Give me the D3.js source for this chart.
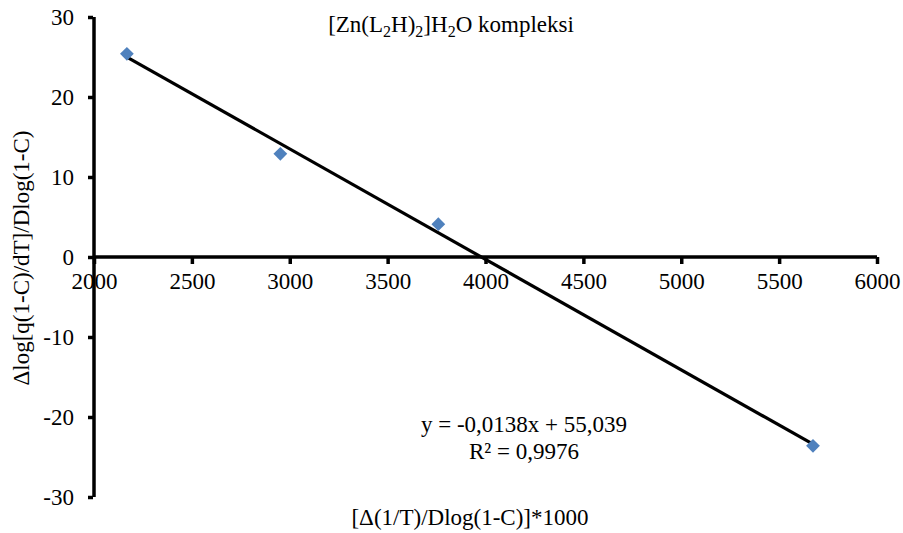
<!DOCTYPE html>
<html>
<head>
<meta charset="utf-8">
<script src="https://cdn.jsdelivr.net/npm/d3@7/dist/d3.min.js"></script>
<style>
  body { margin: 0; background: #fff; }
  svg text { font-family: "Liberation Serif", "Times New Roman", serif; fill: #000; }
</style>
</head>
<body>
<svg id="chart" width="903" height="533"></svg>
<script>
// data
const xValues = [2168, 2952, 3759, 5673];
const yValues = [25.4, 12.9, 4.1, -23.6];
const xTicks = [2000, 2500, 3000, 3500, 4000, 4500, 5000, 5500, 6000];
const yTicks = [-30, -20, -10, 0, 10, 20, 30];
const equationLines = ["y = -0,0138x + 55,039", "R² = 0,9976"];

const svg = d3.select("#chart");

var margin = {top: 17, right: 26, bottom: 36, left: 94},
    width = 903 - margin.left - margin.right,
    height = 533 - margin.top - margin.bottom;

const g = svg.append("g")
  .attr("transform", "translate(" + margin.left + "," + margin.top + ")");

const x = d3.scaleLinear().domain([2000, 6000]).range([0, width]);
const y = d3.scaleLinear().domain([-30, 30]).range([height, 0]);

const fmt = d => String(d); // plain hyphen minus like the original

// y axis at x = 2000
const yAxis = g.append("g")
  .call(d3.axisLeft(y).tickValues(yTicks).tickSize(6).tickPadding(14).tickFormat(fmt));
yAxis.select(".domain").attr("d", "M0," + y(-30) + "V" + y(30)).attr("stroke-width", 3.5);
yAxis.selectAll(".tick line").attr("stroke-width", 3.5).attr("x1", -1);

// x axis along y = 0
const xAxis = g.append("g")
  .attr("transform", "translate(0," + y(0) + ")")
  .call(d3.axisBottom(x).tickValues(xTicks).tickSize(7).tickPadding(9).tickFormat(fmt));
xAxis.select(".domain").attr("d", "M0,0H" + x(6000)).attr("stroke-width", 3.5);
xAxis.selectAll(".tick line").attr("stroke-width", 3.5);

g.selectAll(".tick text")
  .style("font-family", "'Liberation Serif', serif")
  .style("font-size", "23px");

// least squares trendline from the points
const pts = xValues.map((v, i) => ({x: v, y: yValues[i]}));
const mx = d3.mean(xValues), my = d3.mean(yValues);
const slope = d3.sum(pts, d => (d.x - mx) * (d.y - my)) / d3.sum(pts, d => (d.x - mx) * (d.x - mx));
const intercept = my - slope * mx;
const xr = d3.extent(xValues);

g.append("line")
  .attr("x1", x(xr[0])).attr("y1", y(slope * xr[0] + intercept))
  .attr("x2", x(xr[1])).attr("y2", y(slope * xr[1] + intercept))
  .attr("stroke", "#000").attr("stroke-width", 3.2);

// markers
g.selectAll(".pt")
  .data(pts)
  .enter()
  .append("path")
  .attr("class", "pt")
  .attr("d", d3.symbol().type(d3.symbolSquare).size(95))
  .attr("transform", d => "translate(" + x(d.x) + "," + y(d.y) + ") rotate(45)")
  .attr("fill", "#4F81BD");

// equation
const eq = svg.append("text")
  .attr("x", 524).attr("y", 432)
  .attr("text-anchor", "middle")
  .style("font-size", "23px");
equationLines.forEach((t, i) => {
  eq.append("tspan").attr("x", 524).attr("dy", i == 0 ? 0 : 27).text(t);
});

// title
const title = svg.append("text")
  .attr("x", 451).attr("y", 32)
  .attr("text-anchor", "middle")
  .style("font-size", "23px");
title.append("tspan").text("[Zn(L");
title.append("tspan").attr("dy", 5).style("font-size", "16px").text("2");
title.append("tspan").attr("dy", -5).text("H)");
title.append("tspan").attr("dy", 5).style("font-size", "16px").text("2");
title.append("tspan").attr("dy", -5).text("]H");
title.append("tspan").attr("dy", 5).style("font-size", "16px").text("2");
title.append("tspan").attr("dy", -5).text("O kompleksi");

// axis titles
svg.append("text")
  .attr("x", 470).attr("y", 525)
  .attr("text-anchor", "middle")
  .style("font-size", "23px")
  .text("[Δ(1/T)/Dlog(1-C)]*1000");

svg.append("text")
  .attr("transform", "translate(29,258) rotate(-90)")
  .attr("text-anchor", "middle")
  .style("font-size", "23px")
  .text("Δlog[q(1-C)/dT]/Dlog(1-C)");
</script>
</body>
</html>
